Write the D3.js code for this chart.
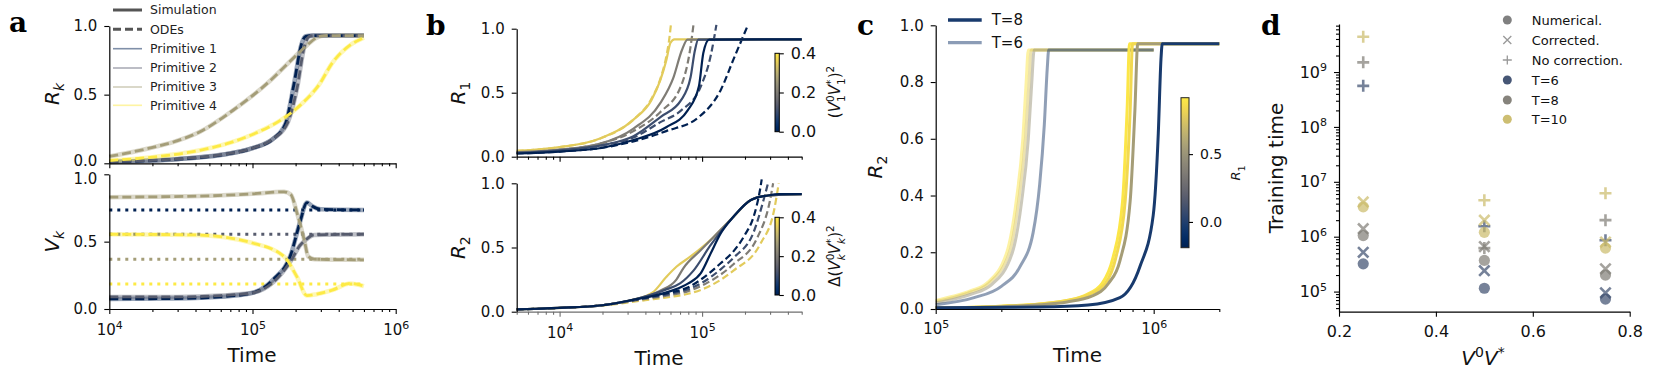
<!DOCTYPE html>
<html><head><meta charset="utf-8">
<script src="https://cdn.jsdelivr.net/npm/d3@7"></script>
<style>body{margin:0;background:#fff;} svg{display:block;}</style>
</head><body>
<script>
// ================= DATA =================
// ---- Panel a : R_k and V_k over time (simulation and ODE coincide) ----
const aPrimitives = ["Primitive 1", "Primitive 2", "Primitive 3", "Primitive 4"];
const aXTicks = [1e4, 1e5, 1e6];
const aYTicks = [0, 0.5, 1.0];
const aR_p1 = [[1e4,0.01],[3e4,0.03],[6e4,0.06],[1e5,0.11],[1.4e5,0.18],[1.7e5,0.29],[1.95e5,0.58],[2.2e5,0.87],[2.35e5,0.925],[2.6e5,0.93],[6e5,0.93]];
const aR_p2 = [[1e4,0.012],[3e4,0.032],[6e4,0.062],[1e5,0.11],[1.4e5,0.18],[1.75e5,0.29],[2.05e5,0.55],[2.3e5,0.85],[2.5e5,0.925],[2.7e5,0.93],[6e5,0.93]];
const aR_p3 = [[1e4,0.05],[1.9e4,0.11],[3e4,0.165],[4.3e4,0.23],[7.4e4,0.39],[1.26e5,0.58],[1.86e5,0.75],[2.4e5,0.86],[2.8e5,0.915],[3.2e5,0.93],[6e5,0.93]];
const aR_p4 = [[1e4,0.02],[2e4,0.045],[4.3e4,0.095],[7e4,0.15],[1e5,0.21],[1.66e5,0.33],[2.14e5,0.42],[2.95e5,0.58],[3.6e5,0.73],[4.8e5,0.86],[6e5,0.915]];
const aV_p1 = [[1e4,0.075],[3e4,0.078],[6e4,0.09],[1e5,0.12],[1.4e5,0.22],[1.86e5,0.41],[2.14e5,0.64],[2.4e5,0.79],[2.6e5,0.765],[3e5,0.74],[6e5,0.735]];
const aV_p2 = [[1e4,0.09],[3e4,0.09],[6e4,0.10],[1e5,0.12],[1.4e5,0.20],[1.86e5,0.36],[2.14e5,0.47],[2.4e5,0.52],[2.7e5,0.55],[6e5,0.555]];
const aV_p3 = [[1e4,0.83],[5e4,0.84],[1e5,0.855],[1.66e5,0.87],[1.85e5,0.85],[2.05e5,0.71],[2.3e5,0.51],[2.45e5,0.39],[2.7e5,0.37],[6e5,0.365]];
const aV_p4 = [[1e4,0.555],[4e4,0.55],[1e5,0.49],[1.66e5,0.39],[2.04e5,0.24],[2.4e5,0.10],[2.8e5,0.11],[3.6e5,0.14],[4.8e5,0.19],[6e5,0.17]];
const aV_targets = [0.735, 0.555, 0.37, 0.186];
const aTargetSpan = [1e4, 6e5];

// ---- Panel b : R_1 and R_2, coloured by overlap value ----
const bColorValues = [0.35, 0.2, 0.1, 0.0];
const bXTicks = [1e4, 1e5];
const bCbarTicks = [0, 0.2, 0.4];
const bR1_sim_0 = [[5e3,0.045],[1e4,0.075],[1.9e4,0.14],[3.3e4,0.29],[4.4e4,0.44],[5.1e4,0.60],[5.6e4,0.75],[6.0e4,0.89],[6.4e4,0.917],[5e5,0.917]];
const bR1_sim_1 = [[5e3,0.035],[1e4,0.055],[1.9e4,0.10],[3.3e4,0.22],[5.1e4,0.42],[6.3e4,0.62],[7.2e4,0.83],[7.9e4,0.915],[5e5,0.917]];
const bR1_sim_2 = [[5e3,0.03],[1e4,0.05],[2e4,0.09],[3.3e4,0.16],[5.1e4,0.31],[7.1e4,0.44],[8.3e4,0.62],[8.9e4,0.83],[9.4e4,0.915],[5e5,0.917]];
const bR1_sim_3 = [[5e3,0.025],[1e4,0.04],[2e4,0.07],[3.3e4,0.13],[5.6e4,0.23],[7.9e4,0.36],[9.5e4,0.55],[1.02e5,0.81],[1.12e5,0.915],[5e5,0.917]];
const bR1_ode_0 = [[5e3,0.045],[1e4,0.075],[1.9e4,0.14],[3.3e4,0.29],[4.4e4,0.45],[5.1e4,0.61],[5.6e4,0.78],[5.9e4,0.93],[6.05e4,1.04]];
const bR1_ode_1 = [[5e3,0.035],[1e4,0.055],[1.9e4,0.10],[3.3e4,0.20],[5.1e4,0.35],[7.1e4,0.55],[8.3e4,0.86],[8.7e4,1.03]];
const bR1_ode_2 = [[5e3,0.03],[1e4,0.05],[2e4,0.09],[3.3e4,0.15],[5.1e4,0.27],[7.1e4,0.36],[9.8e4,0.55],[1.15e5,0.79],[1.26e5,1.03]];
const bR1_ode_3 = [[5e3,0.025],[1e4,0.04],[2e4,0.07],[3.3e4,0.12],[5.6e4,0.20],[9.5e4,0.31],[1.35e5,0.52],[1.66e5,0.76],[2.1e5,1.03]];
const bR2_sim_0 = [[5e3,0.018],[1e4,0.03],[2e4,0.05],[3.2e4,0.09],[4.5e4,0.15],[5.6e4,0.27],[6.6e4,0.35],[8.3e4,0.43],[1.15e5,0.56],[1.66e5,0.74],[2.2e5,0.87],[2.9e5,0.905],[5e5,0.916]];
const bR2_sim_1 = [[5e3,0.018],[1e4,0.03],[2e4,0.05],[3.2e4,0.09],[5e4,0.16],[6.6e4,0.25],[7.4e4,0.34],[9.8e4,0.48],[1.2e5,0.58],[1.66e5,0.74],[2.2e5,0.87],[2.9e5,0.905],[5e5,0.916]];
const bR2_sim_2 = [[5e3,0.018],[1e4,0.03],[2e4,0.05],[3.2e4,0.09],[5.5e4,0.17],[7e4,0.22],[8.7e4,0.32],[1.15e5,0.52],[1.66e5,0.74],[2.2e5,0.87],[2.9e5,0.905],[5e5,0.916]];
const bR2_sim_3 = [[5e3,0.018],[1e4,0.03],[2e4,0.05],[3.2e4,0.09],[6e4,0.16],[8e4,0.22],[9.8e4,0.30],[1.15e5,0.455],[1.35e5,0.61],[1.66e5,0.74],[2.2e5,0.87],[2.9e5,0.905],[3.5e5,0.915],[5e5,0.916]];
const bR2_ode_0 = [[5e3,0.018],[1e4,0.028],[2e4,0.048],[4e4,0.09],[6e4,0.115],[8e4,0.14],[9.8e4,0.17],[1.66e5,0.32],[2.57e5,0.53],[3.2e5,0.79],[3.45e5,1.0]];
const bR2_ode_1 = [[5e3,0.018],[1e4,0.029],[2e4,0.05],[4e4,0.10],[6e4,0.13],[8e4,0.16],[9.8e4,0.20],[1.66e5,0.37],[2.45e5,0.58],[3e5,0.87],[3.15e5,1.0]];
const bR2_ode_2 = [[5e3,0.018],[1e4,0.03],[2e4,0.05],[4e4,0.105],[6e4,0.14],[8e4,0.175],[9.8e4,0.22],[1.35e5,0.33],[1.66e5,0.42],[2.3e5,0.62],[2.7e5,0.87],[2.9e5,1.0]];
const bR2_ode_3 = [[5e3,0.018],[1e4,0.03],[2e4,0.05],[4e4,0.11],[6e4,0.15],[8e4,0.19],[9.8e4,0.25],[1.35e5,0.377],[1.66e5,0.47],[2e5,0.6],[2.3e5,0.74],[2.55e5,0.95],[2.62e5,1.03]];

// ---- Panel c : R_2 for T=8 and T=6, coloured by R_1 ----
const cXTicks = [1e5, 1e6];
const cYTicks = [0, 0.2, 0.4, 0.6, 0.8, 1.0];
const cCbarTicks = [0.0, 0.5];
const cCbarDomain = [-0.19, 0.916];
const cT6_R1 = [0.9, 0.75, 0.5, 0.0];
const cT8_R1 = [0.9, 0.84, 0.55, -0.03];
const cT6_a = [[1e5,0.03],[1.2e5,0.045],[1.45e5,0.065],[1.71e5,0.09],[2.12e5,0.2],[2.34e5,0.38],[2.51e5,0.6],[2.6e5,0.8],[2.66e5,0.913],[1e6,0.913]];
const cT6_b = [[1e5,0.027],[1.2e5,0.04],[1.45e5,0.06],[1.75e5,0.09],[2.18e5,0.2],[2.4e5,0.38],[2.58e5,0.6],[2.68e5,0.8],[2.74e5,0.913],[1e6,0.913]];
const cT6_c = [[1e5,0.022],[1.2e5,0.034],[1.45e5,0.052],[1.8e5,0.085],[2.25e5,0.2],[2.48e5,0.38],[2.66e5,0.6],[2.76e5,0.8],[2.83e5,0.913],[1e6,0.913]];
const cT6_d = [[1e5,0.015],[1.5e5,0.04],[2e5,0.08],[2.44e5,0.15],[2.8e5,0.27],[3.0e5,0.44],[3.15e5,0.65],[3.25e5,0.85],[3.3e5,0.913],[1e6,0.913]];
const cT8_a = [[1e5,0.004],[2e5,0.01],[3e5,0.018],[4e5,0.03],[4.9e5,0.05],[5.8e5,0.09],[6.5e5,0.18],[7.2e5,0.38],[7.55e5,0.7],[7.75e5,0.935],[2e6,0.935]];
const cT8_b = [[1e5,0.004],[2e5,0.01],[3e5,0.018],[4e5,0.03],[5e5,0.05],[6e5,0.09],[6.7e5,0.18],[7.4e5,0.38],[7.8e5,0.7],[8e5,0.935],[2e6,0.935]];
const cT8_c = [[1e5,0.004],[2e5,0.008],[3e5,0.015],[4e5,0.025],[5.2e5,0.045],[6.2e5,0.09],[7e5,0.17],[7.8e5,0.38],[8.2e5,0.7],[8.45e5,0.935],[2e6,0.935]];
const cT8_d = [[1e5,0.004],[3e5,0.007],[5e5,0.014],[7e5,0.04],[8.65e5,0.15],[9.95e5,0.33],[1.05e6,0.62],[1.08e6,0.88],[1.095e6,0.935],[2e6,0.935]];
const cLegend = ["T=8", "T=6"];

// ---- Panel d : training time vs V0V* ----
const dX = [0.25, 0.5, 0.75];
const dXTicks = [0.2, 0.4, 0.6, 0.8];
const dYTicks = [1e5, 1e6, 1e7, 1e8, 1e9];
const dGroups = ["T=6", "T=8", "T=10"];
const dNumerical_T6 = [3.2e5, 1.15e5, 7.3e4];
const dCorrected_T6 = [5.2e5, 2.4e5, 9.5e4];
const dNoCorr_T6 = [5.6e8, 1.55e6, 8.6e5];
const dNumerical_T8 = [1.05e6, 3.7e5, 2.0e5];
const dCorrected_T8 = [1.4e6, 6.6e5, 2.6e5];
const dNoCorr_T8 = [1.5e9, 6.2e5, 2.0e6];
const dNumerical_T10 = [3.5e6, 1.2e6, 6.2e5];
const dCorrected_T10 = [4.3e6, 2.0e6, 8.0e5];
const dNoCorr_T10 = [4.4e9, 4.6e6, 6.2e6];
const dLegend = ["Numerical.", "Corrected.", "No correction.", "T=6", "T=8", "T=10"];

// ================= DRAWING =================
const svg = d3.select('body').append('svg').attr('width', 1661).attr('height', 383)
  .attr('font-family', '"DejaVu Sans", sans-serif');
svg.append('rect').attr('width', 1661).attr('height', 383).attr('fill', '#fff');
const cividis = d3.interpolateCividis;
const FS_TICK = 15, FS_LAB = 20;

function styleAxis(g, color) {
  color = color || '#000';
  g.attr('font-size', FS_TICK).attr('font-family', null);
  g.selectAll('path.domain').attr('stroke', color).attr('stroke-width', 1.2);
  g.selectAll('.tick line').attr('stroke', color).attr('stroke-width', 1.1);
  g.selectAll('.tick text').attr('fill', '#111');
}
function logMinors(domain) {
  const out = [];
  const lo = Math.floor(Math.log10(domain[0])), hi = Math.ceil(Math.log10(domain[1]));
  for (let e = lo; e <= hi; e++) for (let m = 2; m <= 9; m++) {
    const v = m * Math.pow(10, e);
    if (v >= domain[0] * 0.999 && v <= domain[1] * 1.001) out.push(v);
  }
  return out;
}
function supify(g) {
  g.selectAll('.tick text').each(function (d) {
    const t = d3.select(this); t.text(null);
    t.append('tspan').text('10');
    t.append('tspan').attr('font-size', 11).attr('dy', -6.5).text(Math.round(Math.log10(d)));
  });
}
function xAxisLog(y, scale, majors, labelled, color, pad) {
  const g = svg.append('g').attr('transform', `translate(0,${y})`);
  const gm = g.append('g').call(d3.axisBottom(scale).tickValues(logMinors(scale.domain())).tickSize(3).tickSizeOuter(0).tickFormat(''));
  gm.select('.domain').remove();
  const gM = g.append('g').call(d3.axisBottom(scale).tickValues(majors).tickSize(5).tickSizeOuter(0).tickPadding(pad || 10.5).tickFormat(d => labelled ? String(d) : ''));
  styleAxis(gm, color); styleAxis(gM, color);
  if (labelled) supify(gM);
}
function yAxisLin(x, scale, ticks) {
  const g = svg.append('g').attr('transform', `translate(${x},0)`)
    .call(d3.axisLeft(scale).tickValues(ticks).tickSize(5).tickSizeOuter(0).tickPadding(7).tickFormat(d3.format('.1f')));
  styleAxis(g);
  return g;
}
function rotText(x, y, size) {
  return svg.append('text').attr('transform', `translate(${x},${y}) rotate(-90)`)
    .attr('text-anchor', 'middle').attr('font-size', size || FS_LAB).attr('fill', '#111');
}
function symSub(t, base, sub, subItalic, subSize) {
  t.append('tspan').attr('font-style', 'italic').text(base);
  t.append('tspan').attr('font-style', subItalic ? 'italic' : 'normal').attr('font-size', subSize || 14).attr('dy', 5).text(sub);
}
function xLabel(x, y, text) {
  svg.append('text').attr('x', x).attr('y', y).attr('text-anchor', 'middle').attr('font-size', FS_LAB).attr('fill', '#111').text(text);
}
function panelLetter(x, y, s) {
  svg.append('text').attr('x', x).attr('y', y).attr('font-family', '"DejaVu Serif", serif').attr('font-weight', 'bold').attr('font-size', 28).attr('fill', '#000').text(s);
}
function lineFn(xs, ys) { return d3.line().x(d => xs(d[0])).y(d => ys(d[1])).curve(d3.curveMonotoneX); }
function gradient(id) {
  const lg = svg.append('defs').append('linearGradient').attr('id', id).attr('x1', 0).attr('y1', 1).attr('x2', 0).attr('y2', 0);
  d3.range(0, 1.0001, 0.05).forEach(f => lg.append('stop').attr('offset', f).attr('stop-color', cividis(f)));
}

// ---------- Panel a ----------
const xA = d3.scaleLog().domain([1e4, 1e6]).range([109.3, 395.7]);
const yA1 = d3.scaleLinear().domain([0, 1]).range([163.3, 26]);
const yA2 = d3.scaleLinear().domain([0, 1]).range([309, 174.3]);
const aColors = [cividis(0), cividis(1/3), cividis(2/3), cividis(1)];
const aR = [aR_p1, aR_p2, aR_p3, aR_p4];
const aV = [aV_p1, aV_p2, aV_p3, aV_p4];

const gA = svg.append('g');
aV_targets.forEach((v, i) => {
  gA.append('path').attr('d', lineFn(xA, yA2)([[aTargetSpan[0], v], [aTargetSpan[1], v]]))
    .attr('fill', 'none').attr('stroke', aColors[i]).attr('stroke-width', 3).attr('stroke-dasharray', '3,5');
});
[[aR, yA1], [aV, yA2]].forEach(([sets, ys]) => {
  sets.forEach((s, i) => gA.append('path').attr('d', lineFn(xA, ys)(s)).attr('fill', 'none')
    .attr('stroke', aColors[i]).attr('stroke-width', 4.5).attr('stroke-opacity', 0.4));
  sets.forEach((s, i) => gA.append('path').attr('d', lineFn(xA, ys)(s)).attr('fill', 'none')
    .attr('stroke', aColors[i]).attr('stroke-width', 2.8).attr('stroke-dasharray', '9,4'));
});
xAxisLog(163.3, xA, aXTicks, false);
xAxisLog(309, xA, aXTicks, true);
const gAy1 = yAxisLin(109.3, yA1, aYTicks);
const gAy2 = yAxisLin(109.3, yA2, aYTicks);
// the two stacked panels: nudge the touching end labels apart as in the reference
gAy1.selectAll('.tick text').filter(d => d === 0).attr('transform', 'translate(0,-2.8)');
gAy2.selectAll('.tick text').filter(d => d === 1).attr('transform', 'translate(0,4)');
symSub(rotText(59, 94), 'R', 'k', true, 14);
symSub(rotText(59, 241.7), 'V', 'k', true, 14);
xLabel(252, 361.7, 'Time');
const aLegY = [10, 29.3, 48.7, 68, 87, 105.3];
const aLegLabels = ["Simulation", "ODEs"].concat(aPrimitives);
aLegLabels.forEach((lab, i) => {
  const ln = svg.append('line').attr('x1', 113).attr('x2', 142).attr('y1', aLegY[i]).attr('y2', aLegY[i]);
  if (i === 0) ln.attr('stroke', '#555').attr('stroke-width', 3);
  else if (i === 1) ln.attr('stroke', '#555').attr('stroke-width', 3).attr('stroke-dasharray', '8,4');
  else ln.attr('stroke', aColors[i - 2]).attr('stroke-width', 1.6).attr('stroke-opacity', 0.5);
  svg.append('text').attr('x', 150).attr('y', aLegY[i]).attr('dy', '0.35em').attr('font-size', 12.5).attr('fill', '#222').text(lab);
});
panelLetter(9, 31.7, 'a');

// ---------- Panel b ----------
const xB = d3.scaleLog().domain([5e3, 5e5]).range([516.7, 801.7]);
const yB1 = d3.scaleLinear().domain([0, 1]).range([156.7, 28.7]);
const yB2 = d3.scaleLinear().domain([0, 1]).range([311.7, 183.3]);
const bColor = v => cividis(v / 0.4);
const bR1sim = [bR1_sim_0, bR1_sim_1, bR1_sim_2, bR1_sim_3];
const bR1ode = [bR1_ode_0, bR1_ode_1, bR1_ode_2, bR1_ode_3];
const bR2sim = [bR2_sim_0, bR2_sim_1, bR2_sim_2, bR2_sim_3];
const bR2ode = [bR2_ode_0, bR2_ode_1, bR2_ode_2, bR2_ode_3];
[[bR1sim, bR1ode, yB1], [bR2sim, bR2ode, yB2]].forEach(([sims, odes, ys]) => {
  odes.forEach((s, i) => svg.append('path').attr('d', lineFn(xB, ys)(s)).attr('fill', 'none')
    .attr('stroke', bColor(bColorValues[i])).attr('stroke-width', 2.2).attr('stroke-dasharray', '7,3.5'));
  sims.forEach((s, i) => svg.append('path').attr('d', lineFn(xB, ys)(s)).attr('fill', 'none')
    .attr('stroke', bColor(bColorValues[i])).attr('stroke-width', 2.2));
});
xAxisLog(156.7, xB, bXTicks, false);
xAxisLog(311.7, xB, bXTicks, true, '#6e6e6e');
yAxisLin(516.7, yB1, aYTicks);
yAxisLin(516.7, yB2, aYTicks);
symSub(rotText(465, 93), 'R', '1', false, 14);
symSub(rotText(465, 247.7), 'R', '2', false, 14);
xLabel(659, 365, 'Time');
panelLetter(426, 35, 'b');
gradient('gradCiv');
[[53.3, 131.7], [217.3, 295]].forEach(([y0, y1]) => {
  svg.append('rect').attr('x', 775).attr('y', y0).attr('width', 4.3).attr('height', y1 - y0)
    .attr('fill', 'url(#gradCiv)').attr('stroke', '#000').attr('stroke-width', 1);
  const cs = d3.scaleLinear().domain([0, 0.4]).range([y1, y0]);
  const g = svg.append('g').attr('transform', 'translate(779.3,0)')
    .call(d3.axisRight(cs).tickValues(bCbarTicks).tickSize(4.5).tickSizeOuter(0).tickPadding(7).tickFormat(d3.format('.1f')));
  g.select('.domain').remove();
  styleAxis(g);
  g.attr('font-size', 16);
});
function overlapLabel(t, idx, delta) {
  const ss = 10.5;
  if (delta) t.append('tspan').text('Δ');
  t.append('tspan').text('(');
  t.append('tspan').attr('font-style', 'italic').text('V');
  t.append('tspan').attr('font-size', ss).attr('dy', -6.5).text('0');
  t.append('tspan').attr('font-size', ss).attr('font-style', delta ? 'italic' : 'normal').attr('dx', -6.6).attr('dy', 11).text(idx);
  t.append('tspan').attr('font-style', 'italic').attr('dy', -4.5).text('V');
  t.append('tspan').attr('font-size', ss).attr('dy', -6.5).text('*');
  t.append('tspan').attr('font-size', ss).attr('font-style', delta ? 'italic' : 'normal').attr('dx', -5.2).attr('dy', 11).text(idx);
  t.append('tspan').attr('dy', -4.5).text(')');
  t.append('tspan').attr('font-size', ss).attr('dy', -6.5).text('2');
}
overlapLabel(rotText(840, 92, 15), '1', false);
overlapLabel(rotText(840, 256, 15), 'k', true);

// ---------- Panel c ----------
const xC = d3.scaleLog().domain([1e5, 2e6]).range([935.7, 1219.3]);
const yC = d3.scaleLinear().domain([0, 1]).range([309, 25.3]);
const cColor = r => cividis((r - cCbarDomain[0]) / (cCbarDomain[1] - cCbarDomain[0]));
[cT6_a, cT6_b, cT6_c, cT6_d].forEach((s, i) => svg.append('path').attr('d', lineFn(xC, yC)(s)).attr('fill', 'none')
  .attr('stroke', cColor(cT6_R1[i])).attr('stroke-width', 3).attr('stroke-opacity', 0.5));
[cT8_a, cT8_b, cT8_c, cT8_d].forEach((s, i) => svg.append('path').attr('d', lineFn(xC, yC)(s)).attr('fill', 'none')
  .attr('stroke', cColor(cT8_R1[i])).attr('stroke-width', 3));
xAxisLog(309, xC, cXTicks, true, null, 9.6);
yAxisLin(935.7, yC, cYTicks);
symSub(rotText(882, 167), 'R', '2', false, 14);
xLabel(1077.5, 361.7, 'Time');
panelLetter(857, 35, 'c');
[[20, 1], [42.7, 0.5]].forEach(([y, op], i) => {
  svg.append('line').attr('x1', 948).attr('x2', 981.7).attr('y1', y).attr('y2', y)
    .attr('stroke', cColor(cT8_R1[3])).attr('stroke-opacity', op).attr('stroke-width', 3.3);
  svg.append('text').attr('x', 991.7).attr('y', y).attr('dy', '0.36em').attr('font-size', 15).attr('fill', '#111').text(cLegend[i]);
});
svg.append('rect').attr('x', 1181).attr('y', 97.7).attr('width', 8).attr('height', 150)
  .attr('fill', 'url(#gradCiv)').attr('stroke', '#222').attr('stroke-width', 1);
{
  const cs = d3.scaleLinear().domain(cCbarDomain).range([247.7, 97.7]);
  const g = svg.append('g').attr('transform', 'translate(1189,0)')
    .call(d3.axisRight(cs).tickValues(cCbarTicks).tickSize(4).tickSizeOuter(0).tickPadding(7).tickFormat(d3.format('.1f')));
  g.select('.domain').remove();
  styleAxis(g);
  g.attr('font-size', 14);
}
symSub(rotText(1240, 173, 13), 'R', '1', false, 9.5);

// ---------- Panel d ----------
const xD = d3.scaleLinear().domain([0.2, 0.8]).range([1339, 1629.7]);
const yD = d3.scaleLog().domain([4.3e4, 7.5e9]).range([311.7, 24]);
const dColors = [cividis(0.25), cividis(0.5), cividis(0.8)];
const dNum = [dNumerical_T6, dNumerical_T8, dNumerical_T10];
const dCor = [dCorrected_T6, dCorrected_T8, dCorrected_T10];
const dNoc = [dNoCorr_T6, dNoCorr_T8, dNoCorr_T10];
const pathX = s => `M${-s},${-s}L${s},${s}M${-s},${s}L${s},${-s}`;
const pathP = s => `M${-s},0H${s}M0,${-s}V${s}`;
dGroups.forEach((gname, gi) => {
  dNum[gi].forEach((v, i) => svg.append('circle').attr('cx', xD(dX[i])).attr('cy', yD(v)).attr('r', 5.6)
    .attr('fill', dColors[gi]).attr('fill-opacity', 0.7));
  dCor[gi].forEach((v, i) => svg.append('path').attr('transform', `translate(${xD(dX[i])},${yD(v)})`).attr('d', pathX(5.2))
    .attr('stroke', dColors[gi]).attr('stroke-opacity', 0.7).attr('stroke-width', 2.6).attr('fill', 'none'));
  dNoc[gi].forEach((v, i) => svg.append('path').attr('transform', `translate(${xD(dX[i])},${yD(v)})`).attr('d', pathP(6))
    .attr('stroke', dColors[gi]).attr('stroke-opacity', 0.7).attr('stroke-width', 2.6).attr('fill', 'none'));
});
{
  const g = svg.append('g').attr('transform', 'translate(0,311.7)')
    .call(d3.axisBottom(xD).tickValues(dXTicks).tickSize(5).tickSizeOuter(0).tickPadding(9).tickFormat(d3.format('.1f')));
  styleAxis(g);
  g.attr('font-size', 16);
  const gl = svg.append('g').attr('transform', 'translate(1339,0)');
  const gm = gl.append('g').call(d3.axisLeft(yD).tickValues(logMinors(yD.domain())).tickSize(3).tickSizeOuter(0).tickFormat(''));
  gm.select('.domain').remove();
  const gM = gl.append('g').call(d3.axisLeft(yD).tickValues(dYTicks).tickSize(5).tickSizeOuter(0).tickPadding(7).tickFormat(d => String(d)));
  styleAxis(gm); styleAxis(gM); supify(gM);
  gM.attr('font-size', 16);
}
rotText(1283, 168, FS_LAB).text('Training time');
{
  const t = svg.append('text').attr('x', 1483).attr('y', 365).attr('text-anchor', 'middle').attr('font-size', FS_LAB).attr('fill', '#111');
  t.append('tspan').attr('font-style', 'italic').text('V');
  t.append('tspan').attr('font-size', 14).attr('dy', -8).text('0');
  t.append('tspan').attr('font-style', 'italic').attr('dy', 8).text('V');
  t.append('tspan').attr('font-size', 14).attr('dy', -8).text('*');
}
panelLetter(1261, 35, 'd');
const dLegY = [20, 40, 60, 80, 100, 119.3];
dLegend.forEach((lab, i) => {
  const cx = 1507.3, cy = dLegY[i];
  if (i === 0) svg.append('circle').attr('cx', cx).attr('cy', cy).attr('r', 4.5).attr('fill', '#808080');
  else if (i === 1) svg.append('path').attr('transform', `translate(${cx},${cy})`).attr('d', pathX(4)).attr('stroke', '#999').attr('stroke-width', 1.3).attr('fill', 'none');
  else if (i === 2) svg.append('path').attr('transform', `translate(${cx},${cy})`).attr('d', pathP(4.5)).attr('stroke', '#999').attr('stroke-width', 1.3).attr('fill', 'none');
  else svg.append('circle').attr('cx', cx).attr('cy', cy).attr('r', 4.5).attr('fill', dColors[i - 3]).attr('fill-opacity', 0.95);
  svg.append('text').attr('x', 1531.7).attr('y', cy).attr('dy', '0.35em').attr('font-size', 13).attr('fill', '#111').text(lab);
});
</script>
</body></html>
